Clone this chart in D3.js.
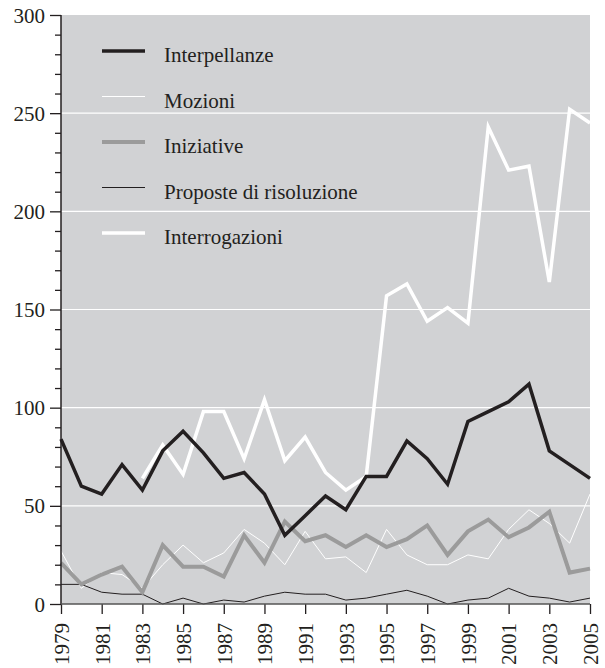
<!DOCTYPE html>
<html><head><meta charset="utf-8">
<script src="https://cdn.jsdelivr.net/npm/d3@7"></script>
<style>body{margin:0;background:#fff}svg{display:block}text{font-family:"Liberation Serif","Times New Roman",serif;fill:#231f20}</style>
</head><body><svg id="c" width="605" height="668"></svg>
<script>
const years = d3.range(1979, 2006);
const interpellanze = [84,60,56,71,58,78,88,77,64,67,56,35,45,55,48,65,65,83,74,61,93,98,103,112,78,71,64];
const mozioni = [27,8,16,15,8,20,30,21,26,38,31,20,37,23,24,16,38,25,20,20,25,23,38,48,41,31,56];
const iniziative = [21,10,15,19,6,30,19,19,14,35,21,42,32,35,29,35,29,33,40,25,37,43,34,39,47,16,18];
const proposte = [10,10,6,5,5,0,3,0,2,1,4,6,5,5,2,3,5,7,4,0,2,3,8,4,3,1,3];
const interrogazioni = [null,null,null,null,64,81,66,98,98,74,104,73,85,67,58,65,157,163,144,151,143,243,221,223,164,252,245];
const seriesNames = ["Interpellanze","Mozioni","Iniziative","Proposte di risoluzione","Interrogazioni"];
const yTicks = [0,50,100,150,200,250,300];
const xTickYears = d3.range(1979, 2006, 2);

const svg = d3.select("#c");
const L = 61, R = 590, T = 15, B = 604;
const x = d3.scaleLinear().domain([1979, 2005]).range([L, R]);
const y = d3.scaleLinear().domain([0, 300]).range([B, T]);

svg.append("rect").attr("x", L).attr("y", T).attr("width", R - L).attr("height", B - T).attr("fill", "#d1d2d4");

svg.append("g").selectAll("line").data(yTicks.filter(v => v > 0 && v < 300)).join("line")
  .attr("x1", L).attr("x2", R).attr("y1", d => y(d)).attr("y2", d => y(d))
  .attr("stroke", "#fff").attr("stroke-width", 1.2);

const styles = [
  {data: interpellanze, color: "#231f20", w: 3.5},
  {data: mozioni, color: "#ffffff", w: 1},
  {data: iniziative, color: "#9b9b9b", w: 4},
  {data: proposte, color: "#231f20", w: 1},
  {data: interrogazioni, color: "#ffffff", w: 3.5}
];
const drawOrder = [4, 1, 3, 2, 0];
const line = d3.line().defined(d => d[1] != null).x(d => x(d[0])).y(d => y(d[1]));
drawOrder.forEach(i => {
  const s = styles[i];
  svg.append("path").datum(years.map((yr, k) => [yr, s.data[k]]))
    .attr("d", line).attr("fill", "none").attr("stroke", s.color)
    .attr("stroke-width", s.w).attr("stroke-linejoin", "miter");
});

// y axis
const yAxis = d3.axisLeft(y).tickValues(d3.range(0, 301, 10)).tickSize(0).tickFormat("");
const gy = svg.append("g").attr("transform", `translate(${L},0)`).call(yAxis);
gy.select(".domain").remove();
gy.selectAll(".tick line").attr("x2", d => d % 50 === 0 ? -11 : -6).attr("stroke", "#231f20").attr("stroke-width", 1.3);
gy.selectAll(".tick").filter(d => d % 50 === 0).append("text")
  .attr("x", -16).attr("dy", "0.34em").attr("text-anchor", "end")
  .style("font-size", "21px").text(d => d);
svg.append("line").attr("x1", L).attr("x2", L).attr("y1", T).attr("y2", B).attr("stroke", "#231f20").attr("stroke-width", 1.5);

// x axis
const xAxis = d3.axisBottom(x).tickValues(xTickYears).tickSize(0).tickFormat("");
const gx = svg.append("g").attr("transform", `translate(0,${B})`).call(xAxis);
gx.select(".domain").remove();
gx.selectAll(".tick line").attr("y2", 10).attr("stroke", "#231f20").attr("stroke-width", 1.3);
gx.selectAll(".tick").append("text")
  .attr("transform", "translate(0,19) rotate(-90)")
  .attr("dy", "0.35em").attr("text-anchor", "end")
  .style("font-size", "21px").text(d => d);
svg.append("line").attr("x1", L).attr("x2", R).attr("y1", B).attr("y2", B).attr("stroke", "#555").attr("stroke-width", 1.3);

// legend
const lg = svg.append("g");
seriesNames.forEach((name, i) => {
  const ly = 51 + i * 45.5;
  lg.append("line").attr("x1", 102).attr("x2", 145).attr("y1", ly).attr("y2", ly)
    .attr("stroke", styles[i].color).attr("stroke-width", styles[i].w);
  lg.append("text").attr("x", 164).attr("y", ly + 11).style("font-size", "21px").text(name);
});
</script></body></html>
